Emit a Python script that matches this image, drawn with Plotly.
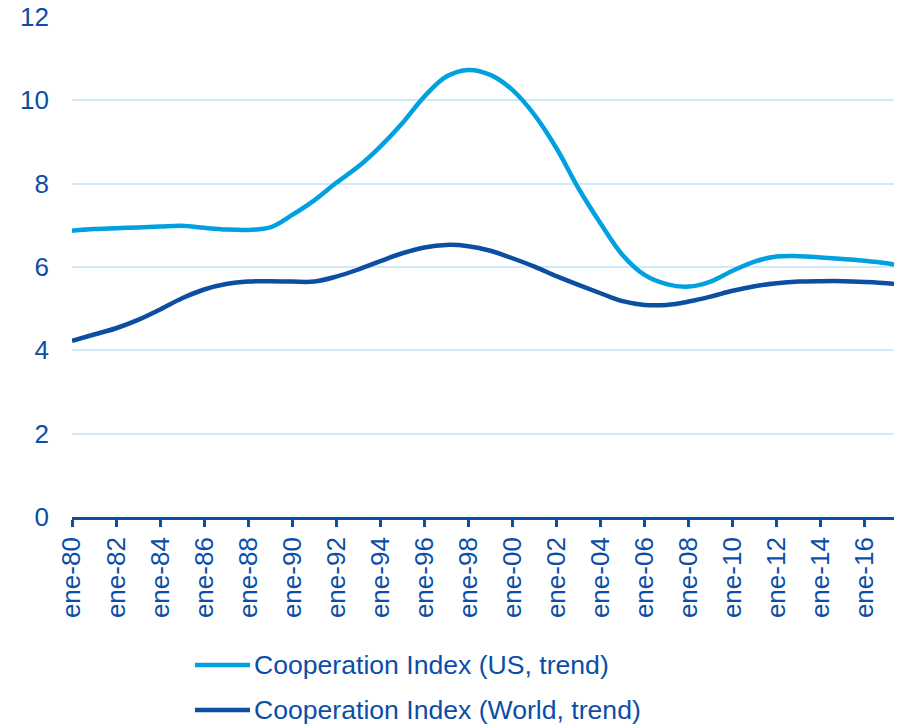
import plotly.graph_objects as go

years = [1980, 1981, 1982, 1983, 1984, 1985, 1986, 1987, 1988, 1989,
         1990, 1991, 1992, 1993, 1994, 1995, 1996, 1997, 1998, 1999,
         2000, 2001, 2002, 2003, 2004, 2005, 2006, 2007, 2008, 2009,
         2010, 2011, 2012, 2013, 2014, 2015, 2016, 2017]
dates = [f"{y}-01-01" for y in years] + ["2017-05-01"]

us_trend = [6.87, 6.91, 6.93, 6.95, 6.97, 6.99, 6.94, 6.90, 6.89, 6.95,
            7.25, 7.60, 8.02, 8.41, 8.89, 9.45, 10.09, 10.57, 10.73, 10.61,
            10.25, 9.65, 8.85, 7.89, 7.05, 6.29, 5.81, 5.59, 5.53, 5.65,
            5.91, 6.13, 6.25, 6.26, 6.23, 6.19, 6.15, 6.09, 6.06]

world_trend = [4.23, 4.38, 4.53, 4.73, 4.98, 5.25, 5.46, 5.59, 5.65, 5.66,
               5.65, 5.65, 5.77, 5.94, 6.14, 6.33, 6.47, 6.53, 6.50, 6.39,
               6.21, 6.01, 5.78, 5.57, 5.37, 5.18, 5.09, 5.09, 5.17, 5.29,
               5.43, 5.54, 5.61, 5.65, 5.66, 5.66, 5.64, 5.61, 5.59]

tick_years = list(range(1980, 2017, 2))
tick_vals = [f"{y}-01-01" for y in tick_years]
tick_text = [f"ene-{str(y)[2:]}" for y in tick_years]

y_ticks = [0, 2, 4, 6, 8, 10, 12]

series_names = ["Cooperation Index (US, trend)", "Cooperation Index (World, trend)"]

LIGHT = "#00a0e1"
DARK = "#0b4ea2"
TEXT = "#0b4ea8"
GRID = "#cfeaf6"
FONT = "Liberation Sans, Arial, sans-serif"

W, H = 903, 724
ML, MR, MT, MB = 72, 9, 17, 207
PW, PH = W - ML - MR, H - MT - MB


def px_x(px):
    return (px - ML) / PW


def px_y(py):
    return (H - MB - py) / PH


fig = go.Figure()
colors = [LIGHT, DARK]
for name, vals, col in zip(series_names, [us_trend, world_trend], colors):
    fig.add_trace(go.Scatter(x=dates, y=vals, mode="lines", name=name,
                             line=dict(color=col, width=4.5, shape="spline", smoothing=1.0),
                             showlegend=False))

# custom legend below the chart
legend_rows = [665, 710]
for name, col, row in zip(series_names, colors, legend_rows):
    fig.add_shape(type="line", xref="paper", yref="paper",
                  x0=px_x(195), x1=px_x(250), y0=px_y(row), y1=px_y(row),
                  line=dict(color=col, width=4.5))
    fig.add_annotation(xref="paper", yref="paper", x=px_x(252), y=px_y(row),
                       xanchor="left", yanchor="middle", text=name, showarrow=False,
                       font=dict(family=FONT, size=26.6, color=TEXT))

fig.update_layout(
    width=W, height=H,
    margin=dict(l=ML, r=MR, t=MT, b=MB, autoexpand=False),
    paper_bgcolor="white", plot_bgcolor="white",
    font=dict(family=FONT, size=26, color=TEXT),
    showlegend=False,
)

fig.update_xaxes(
    type="date",
    range=["1980-01-01", "2017-05-01"],
    tickvals=tick_vals, ticktext=tick_text,
    tickangle=-90,
    showgrid=False,
    showline=True, linecolor=DARK, linewidth=2.5,
    ticks="outside", ticklen=7, tickwidth=2.5, tickcolor=DARK,
    tickfont=dict(family=FONT, size=26, color=TEXT),
    ticklabelstandoff=0,
    zeroline=False,
    automargin=False,
)
fig.update_yaxes(
    range=[0, 12],
    tickvals=y_ticks,
    showgrid=True, gridcolor=GRID, gridwidth=1.5,
    showline=False, zeroline=False,
    ticks="",
    tickfont=dict(family=FONT, size=26, color=TEXT),
    ticklabelstandoff=22,
    automargin=False,
)

fig.write_html("out.html",
               config={"displayModeBar": False},
               post_script="document.body.style.margin='0px';document.body.style.overflow='hidden';")
